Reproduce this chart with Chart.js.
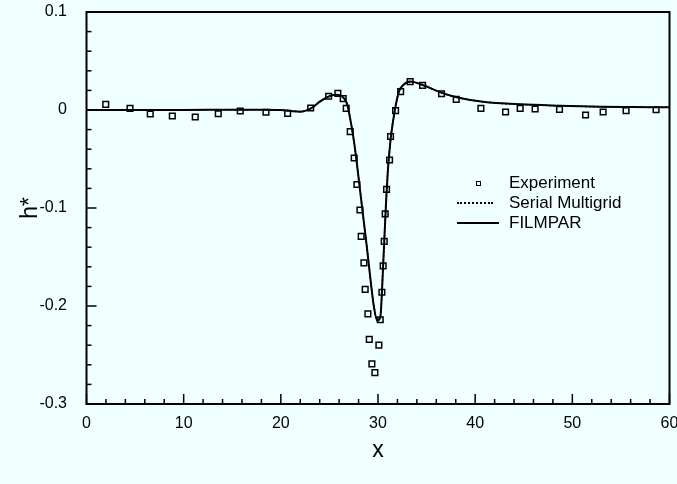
<!DOCTYPE html>
<html>
<head>
<meta charset="utf-8">
<script src="https://cdn.jsdelivr.net/npm/chart.js@4.4.0/dist/chart.umd.min.js"></script>
<style>
  body { margin: 0; background: #f0ffff; }
  #wrap { position: relative; width: 677px; height: 484px; }
  .key { position: absolute; font: 17px "Liberation Sans", Arial, sans-serif; color: #000; line-height: 20px; white-space: nowrap; }
  .sq { position: absolute; left: 476px; top: 181px; width: 3px; height: 3px; border: 1px solid #000; }
  .dots { position: absolute; left: 457px; top: 202px; width: 36px; border-top: 2px dotted #000; }
  .solid { position: absolute; left: 457px; top: 222px; width: 42px; border-top: 2px solid #000; }
</style>
</head>
<body>
<div id="wrap">
  <canvas id="myChart" width="677" height="484"></canvas>
  <div class="sq"></div>
  <div class="key" style="left:509px; top:173px;">Experiment</div>
  <div class="dots"></div>
  <div class="key" style="left:509px; top:193px;">Serial Multigrid</div>
  <div class="solid"></div>
  <div class="key" style="left:509px; top:213px;">FILMPAR</div>
</div>
<script>
// measured points
const expX = [1.98, 4.48, 6.56, 8.83, 11.19, 13.56, 15.82, 18.47, 20.7, 23.07,
  24.92, 25.87, 26.42, 26.73, 27.14, 27.55, 27.83, 28.14, 28.27, 28.55,
  28.68, 28.96, 29.1, 29.37, 29.68, 30.09, 30.23, 30.4, 30.53, 30.64,
  30.74, 30.88, 31.19, 31.29, 31.81, 32.33, 33.31, 34.59, 36.54, 38.05,
  40.59, 43.13, 44.63, 46.17, 48.68, 51.36, 53.17, 55.53, 58.62];
const expY = [0.0058, 0.0017, -0.0041, -0.0061, -0.0071, -0.0038, -0.001, -0.0023, -0.0034, 0.002,
  0.014, 0.017, 0.0116, 0.0017, -0.022, -0.049, -0.076, -0.102, -0.129, -0.156,
  -0.183, -0.208, -0.234, -0.259, -0.268, -0.24, -0.214, -0.186, -0.159, -0.134,
  -0.106, -0.081, -0.051, -0.027, -0.0007, 0.0187, 0.0289, 0.0252, 0.0166, 0.0109,
  0.0017, -0.002, 0.0017, 0.001, 0.0007, -0.0051, -0.002, -0.0007, 0.0003];

// computed profiles
const curveX = [0, 5, 10, 15, 18, 20, 21, 22, 23.1, 24.0, 25.05, 25.75, 26.35, 26.8, 27.1,
  27.45, 27.72, 28.07, 28.48, 28.89, 29.27, 29.58, 29.92, 30.25, 30.4, 30.54, 30.68,
  30.84, 31.02, 31.19, 31.33, 31.74, 32.15, 32.6, 33.3, 34.6, 36.5, 38.1, 40.8, 44.6,
  48.7, 52.8, 56, 60];
const filmparY = [0, 0, 0, 0.0003, 0.0003, 0, -0.001, -0.0017, 0.0017, 0.0085, 0.0143, 0.0156,
  0.0136, 0.0068, -0.0068, -0.027, -0.046, -0.075, -0.109, -0.143, -0.177, -0.201, -0.215,
  -0.211, -0.187, -0.156, -0.126, -0.092, -0.061, -0.041, -0.027, 0, 0.0187, 0.0255,
  0.029, 0.0255, 0.0177, 0.013, 0.0085, 0.0058, 0.0044, 0.0034, 0.003, 0.0027];
const multigridY = [0, 0, 0, 0.0003, 0.0003, 0, -0.001, -0.0016, 0.0016, 0.0083, 0.0141, 0.0154,
  0.0134, 0.0067, -0.0068, -0.027, -0.046, -0.075, -0.109, -0.143, -0.176, -0.2, -0.214,
  -0.21, -0.186, -0.156, -0.126, -0.092, -0.061, -0.041, -0.027, 0, 0.0185, 0.0253,
  0.0288, 0.0254, 0.0176, 0.013, 0.0085, 0.0058, 0.0044, 0.0034, 0.003, 0.0027];

const xTicks = [0, 10, 20, 30, 40, 50, 60];
const yTicks = [-0.3, -0.2, -0.1, 0, 0.1];

const pts = (xs, ys) => xs.map((x, i) => ({ x: x, y: ys[i] }));
const font = '"Liberation Sans", Arial, sans-serif';

const frameTicks = {
  id: "frameTicks",
  afterDraw(chart) {
    const { ctx, chartArea: a, scales } = chart;
    ctx.save();
    ctx.strokeStyle = "#000";
    ctx.lineWidth = 1.5;
    for (let v = 0; v <= 60; v += 2) {
      const px = scales.x.getPixelForValue(v);
      const len = v % 10 === 0 ? 10 : 5;
      ctx.beginPath();
      ctx.moveTo(px, a.bottom);
      ctx.lineTo(px, a.bottom - len);
      ctx.stroke();
    }
    for (let i = 0; i <= 20; i++) {
      const v = -0.3 + i * 0.02;
      const py = scales.y.getPixelForValue(v);
      const len = i % 5 === 0 ? 10 : 5;
      ctx.beginPath();
      ctx.moveTo(a.left, py);
      ctx.lineTo(a.left + len, py);
      ctx.stroke();
    }
    ctx.lineWidth = 2;
    ctx.strokeRect(a.left, a.top, a.right - a.left, a.bottom - a.top);
    ctx.restore();
  },
};

const ctx = document.getElementById("myChart").getContext("2d");
new Chart(ctx, {
  type: "scatter",
  data: {
    datasets: [
      {
        label: "Serial Multigrid",
        data: pts(curveX, multigridY),
        showLine: true,
        borderColor: "#000",
        borderWidth: 1.5,
        borderDash: [2, 2],
        pointRadius: 0,
        cubicInterpolationMode: "monotone",
      },
      {
        label: "FILMPAR",
        data: pts(curveX, filmparY),
        showLine: true,
        borderColor: "#000",
        borderWidth: 2,
        pointRadius: 0,
        cubicInterpolationMode: "monotone",
      },
      {
        label: "Experiment",
        data: pts(expX, expY),
        pointStyle: "rect",
        pointRadius: 4,
        borderWidth: 1.5,
        borderColor: "#000",
        backgroundColor: "rgba(0,0,0,0)",
      },
    ],
  },
  options: {
    responsive: false,
    animation: false,
    layout: { padding: { top: 12, right: 7.5, left: 0, bottom: 0 } },
    plugins: { legend: { display: false }, tooltip: { enabled: false } },
    scales: {
      x: {
        type: "linear",
        min: 0,
        max: 60,
        afterBuildTicks: (s) => { s.ticks = xTicks.map((v) => ({ value: v })); },
        afterFit: (s) => { s.height = 80; s.paddingLeft = 0; s.paddingRight = 0; },
        grid: { display: false },
        border: { display: false },
        ticks: { color: "#000", font: { family: font, size: 16 }, padding: 2, maxRotation: 0 },
        title: { display: true, text: "x", color: "#000", font: { family: font, size: 23 }, padding: { bottom: 20 } },
      },
      y: {
        min: -0.3,
        max: 0.1,
        afterBuildTicks: (s) => { s.ticks = yTicks.map((v) => ({ value: v })); },
        afterFit: (s) => { s.width = 86.5; s.paddingTop = 0; s.paddingBottom = 0; },
        grid: { display: false },
        border: { display: false },
        ticks: {
          color: "#000",
          font: { family: font, size: 16 },
          padding: 11.5,
          callback: (v) => String(Math.round(v * 10) / 10),
        },
        title: { display: true, text: "h*", color: "#000", font: { family: font, size: 23 }, padding: { top: 17 } },
      },
    },
  },
  plugins: [frameTicks],
});
</script>
</body>
</html>
